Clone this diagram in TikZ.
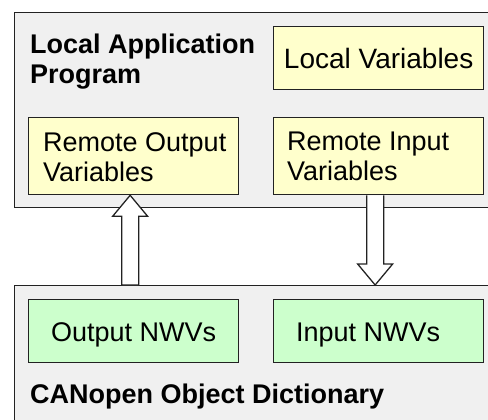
\documentclass[tikz,border=0pt]{standalone}
\usepackage{fontspec}
\setmainfont{Liberation Sans}
\usetikzlibrary{calc}
\definecolor{panelgray}{HTML}{F0F0F0}
\definecolor{varyellow}{HTML}{FFFFCC}
\definecolor{nwvgreen}{HTML}{CCFFCC}
\definecolor{edge}{HTML}{222222}
\tikzset{
  panel/.style={draw=edge, line width=1.3pt, fill=panelgray, rectangle,
    anchor=north west, inner sep=0pt},
  varbox/.style={draw=edge, line width=1.3pt, fill=varyellow, rectangle,
    anchor=north west, minimum width=210pt, inner sep=0pt,
    font=\fontsize{27}{30}\selectfont},
  nwvbox/.style={varbox, fill=nwvgreen, minimum height=63pt},
  boxtext/.style={anchor=north west, inner sep=0pt, align=left,
    font=\fontsize{27}{30}\selectfont},
  nwvtext/.style={inner sep=0pt, text depth=0pt, font=\fontsize{27}{30}\selectfont},
  paneltitle/.style={anchor=north west, inner sep=0pt, align=left,
    font=\fontsize{27}{30}\selectfont\bfseries},
  hollowarrow/.style={draw=edge, line width=1.3pt, fill=white, line join=miter}
}
\begin{document}
\begin{tikzpicture}[x=1pt, y=-1pt]
  \clip (0,0) rectangle (488,420);
  \fill[white] (0,0) rectangle (488,420);

  % application side
  \node[panel, minimum width=486pt, minimum height=195pt] (app) at (14,12) {};
  \node[paneltitle] (apptitle) at (30,34) {Local Application\\Program};
  \node[varbox, minimum height=63pt, font=\fontsize{28}{30}\selectfont] (lv) at (273,26) {Local Variables};
  \node[varbox, minimum height=77pt] (ro) at (28,117) {};
  \node[varbox, minimum height=77pt] (ri) at (273,117) {};
  \node[boxtext] (rotext) at ($(ro.north west)+(15,15)$) {Remote Output\\Variables};
  \node[boxtext] (ritext) at ($(ri.north west)+(14,15)$) {Remote Input\\Variables};

  % object dictionary side
  \node[panel, minimum width=486pt, minimum height=150pt] (od) at (14,285) {};
  \node[nwvbox] (onwv) at (28,299) {};
  \node[nwvbox] (inwv) at (273,299) {};
  \node[nwvtext] (onwvtext) at ($(onwv.center)+(0,1)$) {Output NWVs};
  \node[nwvtext, anchor=west] (inwvtext) at ($(inwv.west)+(23,1)$) {Input NWVs};
  \node[paneltitle, anchor=base west] (odtitle) at (30,403) {CANopen Object Dictionary};

  % hollow transfer arrows between the two sides
  \coordinate (uptip) at ($(ro.south)+(-3.5,0)$);
  \coordinate (upfoot) at (uptip |- od.north);
  \draw[hollowarrow] (uptip) -- ++(17.5,21) -- ++(-9,0)
    -- ($(upfoot)+(8.5,0)$) -- ($(upfoot)+(-8.5,0)$)
    -- ($(uptip)+(-8.5,21)$) -- ++(-9,0) -- cycle;

  \coordinate (dntop) at ($(ri.south)+(-3.5,0)$);
  \coordinate (dntip) at (dntop |- od.north);
  \draw[hollowarrow] ($(dntop)+(-8.5,0)$) -- ($(dntip)+(-8.5,-21)$) -- ++(-9,0)
    -- (dntip) -- ($(dntip)+(17.5,-21)$) -- ++(-9,0)
    -- ($(dntop)+(8.5,0)$);
\end{tikzpicture}
\end{document}
